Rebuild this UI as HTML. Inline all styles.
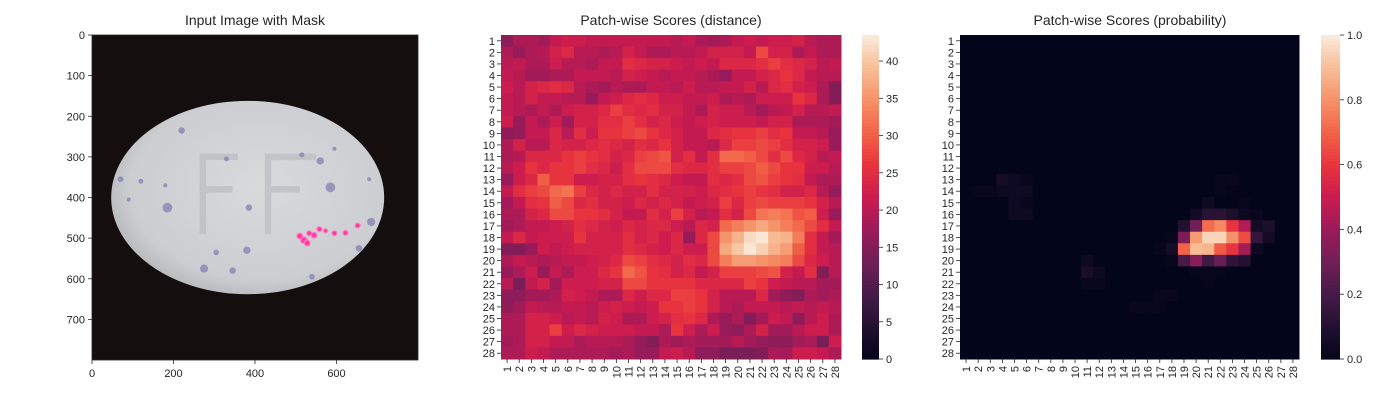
<!DOCTYPE html>
<html><head><meta charset="utf-8"><style>
html,body{margin:0;padding:0;background:#fff;}
svg text{font-family:"Liberation Sans",Arial,sans-serif;fill:#262626;}
</style></head><body>
<svg id="fig" width="1400" height="400" viewBox="0 0 1400 400" xmlns="http://www.w3.org/2000/svg">
<rect width="1400" height="400" fill="#fff"/>
<!-- Panel 1 -->
<g>
<text x="255" y="25" font-size="14" text-anchor="middle">Input Image with Mask</text>
<svg x="92" y="35" width="326" height="325" viewBox="0 0 800 800" preserveAspectRatio="none">
<defs><radialGradient id="pg" cx="0.55" cy="0.45" r="0.6"><stop offset="0" stop-color="#d8dadd"/><stop offset="0.8" stop-color="#cbcdd1"/><stop offset="1" stop-color="#b3b5b8"/></radialGradient></defs>
<rect width="800" height="800" fill="#150e0f"/>
<ellipse cx="382" cy="400" rx="335" ry="238" fill="url(#pg)"/>
<g fill="none" stroke="#c0c2c6" stroke-width="16" opacity="0.9">
<path d="M272 490 V300 H358 M272 380 H345"/>
<path d="M432 490 V300 H550 M432 380 H510"/>
</g>
<g fill="#7a73b0" opacity="0.65">
<circle cx="220" cy="235" r="8"/><circle cx="185" cy="425" r="12"/><circle cx="120" cy="360" r="6"/><circle cx="70" cy="355" r="7"/><circle cx="380" cy="530" r="9"/><circle cx="275" cy="575" r="10"/><circle cx="345" cy="580" r="8"/><circle cx="305" cy="535" r="7"/><circle cx="585" cy="375" r="12"/><circle cx="560" cy="310" r="9"/><circle cx="685" cy="460" r="10"/><circle cx="655" cy="525" r="8"/><circle cx="540" cy="595" r="7"/><circle cx="385" cy="425" r="8"/><circle cx="180" cy="370" r="5"/><circle cx="515" cy="295" r="6"/><circle cx="595" cy="280" r="5"/><circle cx="680" cy="355" r="5"/><circle cx="330" cy="305" r="6"/><circle cx="90" cy="405" r="5"/>
</g>
<g fill="#ff3aa0" stroke="#ff7cc4" stroke-width="3">
<circle cx="510" cy="495" r="7"/><circle cx="520" cy="505" r="8"/><circle cx="528" cy="512" r="7"/><circle cx="533" cy="488" r="6"/><circle cx="545" cy="493" r="7"/><circle cx="558" cy="478" r="6"/><circle cx="573" cy="482" r="5"/><circle cx="595" cy="488" r="6"/><circle cx="622" cy="487" r="6"/><circle cx="652" cy="469" r="6"/>
</g>
</svg>
<rect x="92" y="35" width="326" height="325" fill="none" stroke="#262626" stroke-width="0.8"/>
<g id="ax1"></g>
</g>
<g id="h2">
<text x="671" y="25" font-size="14" text-anchor="middle">Patch-wise Scores (distance)</text>
</g>
<g id="h3">
<text x="1130" y="25" font-size="14" text-anchor="middle">Patch-wise Scores (probability)</text>
</g>
</svg>
<script>
const imgTicks = [0,100,200,300,400,500,600,700];
const imgXTicks = [0,200,400,600];
const distTicks = [0,5,10,15,20,25,30,35,40];
const probTicks = [0,0.2,0.4,0.6,0.8,1.0];
const distMax = 43.5;
const probMax = 1.0;
const distRows = [
[16,19,19,18,21,22,22,21,21,21,21,21,21,21,20,21,19,18,19,21,22,21,22,22,23,20,19,19],
[19,17,19,20,23,24,20,20,19,20,23,21,19,19,20,20,21,23,23,23,21,28,23,23,19,21,19,19],
[20,21,19,19,22,20,20,19,21,21,25,24,23,23,22,21,22,21,24,24,24,25,27,25,24,23,20,21],
[21,20,18,18,19,19,21,21,21,20,23,22,21,20,21,21,20,19,17,21,21,23,24,26,24,21,20,20],
[22,20,23,24,25,24,20,19,18,20,19,19,21,21,20,22,20,20,21,21,23,20,24,25,23,22,19,15],
[21,20,23,21,21,20,20,17,21,22,24,25,24,22,22,21,21,22,19,20,19,22,22,22,26,24,19,15],
[21,20,19,21,19,22,23,23,24,27,25,24,25,23,23,21,19,23,22,22,20,18,20,21,23,20,20,21],
[22,17,21,19,22,18,23,23,25,25,27,25,23,24,22,21,22,23,22,22,22,21,23,23,19,19,19,18],
[16,17,21,21,24,20,25,22,26,26,27,28,26,24,23,21,21,24,25,26,26,27,25,26,21,21,20,17],
[19,23,20,20,24,23,23,24,25,24,23,25,24,26,23,21,21,20,24,27,27,28,27,25,23,23,22,17],
[19,20,24,24,24,26,27,26,25,23,24,27,28,29,23,25,21,25,31,31,30,28,25,28,24,23,20,21],
[20,22,26,24,26,26,27,25,24,22,25,28,28,28,25,24,24,25,27,27,28,30,28,26,26,22,22,20],
[17,22,24,30,26,26,22,22,23,23,25,26,25,24,22,21,21,25,24,25,28,29,27,26,25,21,19,19],
[21,25,27,28,31,32,27,24,23,24,23,23,25,23,23,23,22,24,25,26,27,26,25,23,23,24,20,17],
[18,21,25,26,30,28,24,25,23,23,22,24,23,24,23,21,22,23,27,24,27,28,27,27,27,26,23,20],
[19,19,23,24,28,28,26,26,25,23,21,21,25,23,27,23,20,21,25,23,28,32,33,32,29,30,22,17],
[18,19,21,21,22,23,25,24,23,22,24,23,24,24,22,20,24,23,31,33,35,37,35,33,31,28,25,21],
[21,24,21,22,22,22,26,23,23,23,25,23,24,22,24,17,24,28,35,38,42,43,39,38,33,25,21,18],
[15,15,17,22,21,22,23,23,23,23,25,24,23,22,24,22,22,28,37,40,43,41,38,36,30,25,21,20],
[19,21,20,19,20,21,21,22,23,24,28,27,25,24,23,25,24,28,33,36,36,35,34,33,28,24,22,20],
[17,19,22,17,21,19,22,22,24,26,31,29,26,25,23,24,21,23,27,27,27,28,29,23,21,25,15,20],
[20,14,21,23,18,22,22,22,23,23,28,28,26,26,26,26,24,24,24,24,27,26,22,21,20,20,18,18],
[16,16,18,18,19,23,22,21,19,19,24,22,24,24,27,27,26,23,20,20,20,24,18,16,15,19,18,19],
[16,18,21,20,20,21,21,20,22,23,22,21,22,26,26,27,26,23,20,19,21,21,21,20,21,20,21,20],
[19,19,23,23,22,20,21,20,23,22,19,19,22,23,25,26,24,19,17,19,15,18,22,21,16,20,22,19],
[19,19,23,23,27,22,24,23,22,22,22,21,21,19,26,22,19,22,17,16,19,23,18,18,20,22,22,19],
[18,19,23,23,21,21,19,20,20,20,19,17,15,19,18,19,18,18,18,20,18,17,16,16,18,19,14,22],
[19,19,22,21,19,19,19,19,19,18,19,17,17,21,22,20,16,16,14,14,14,15,19,18,22,22,21,19]
];
const z=[0,0,0,0,0,0,0,0,0,0,0,0,0,0,0,0,0,0,0,0,0,0,0,0,0,0,0,0];
const probRows = [
z,z,z,z,z,z,z,z,z,z,z,z,
[0,0,0,0.06,0.04,0.02,0,0,0,0,0,0,0,0,0,0,0,0,0,0,0,0.01,0.02,0,0,0,0,0],
[0,0.02,0.02,0.03,0.04,0.04,0,0,0,0,0,0,0,0,0,0,0,0,0,0,0,0.01,0,0,0,0,0,0],
[0,0,0,0,0.04,0.02,0,0,0,0,0,0,0,0,0,0,0,0,0,0,0.04,0,0,0.01,0,0,0,0],
[0,0,0,0,0.04,0.04,0,0,0,0,0,0,0,0,0,0,0,0,0,0.05,0.12,0.12,0.08,0.03,0.02,0,0,0],
[0,0,0,0,0,0,0,0,0,0,0,0,0,0,0,0,0,0,0.1,0.3,0.72,0.78,0.6,0.45,0.05,0.08,0,0],
[0,0,0,0,0,0,0,0,0,0,0,0,0,0,0,0,0,0.02,0.33,0.82,0.95,0.95,0.8,0.65,0.15,0.05,0,0],
[0,0,0,0,0,0,0,0,0,0,0,0,0,0,0,0,0.02,0.06,0.7,0.9,0.88,0.68,0.6,0.42,0.03,0,0,0],
[0,0,0,0,0,0,0,0,0,0,0.03,0,0,0,0,0,0,0.02,0.2,0.35,0.18,0.28,0.13,0.1,0,0,0,0],
[0,0,0,0,0,0,0,0,0,0,0.07,0.03,0,0,0,0,0,0,0,0.01,0.01,0.01,0,0,0,0,0,0],
[0,0,0,0,0,0,0,0,0,0,0.02,0.02,0,0,0,0,0,0,0,0,0.01,0,0,0,0,0,0,0],
[0,0,0,0,0,0,0,0,0,0,0,0,0,0,0,0,0.02,0.02,0,0,0,0,0,0,0,0,0,0],
[0,0,0,0,0,0,0,0,0,0,0,0,0,0,0.02,0.02,0.02,0,0,0,0,0,0,0,0,0,0,0],
z,z,z,z
];
const rocket=[[0,3,5,26],[0.1,34,17,48],[0.2,70,26,73],[0.3,112,31,87],[0.4,155,27,90],[0.5,203,27,79],[0.6,232,52,62],[0.7,242,99,71],[0.8,245,145,104],[0.9,247,190,150],[1,250,235,221]];
function cmap(t){t=Math.max(0,Math.min(1,t));for(let i=1;i<rocket.length;i++){if(t<=rocket[i][0]){const a=rocket[i-1],b=rocket[i],f=(t-a[0])/(b[0]-a[0]);return `rgb(${Math.round(a[1]+f*(b[1]-a[1]))},${Math.round(a[2]+f*(b[2]-a[2]))},${Math.round(a[3]+f*(b[3]-a[3]))})`;}}return 'rgb(250,235,221)';}
const NS='http://www.w3.org/2000/svg';
function mk(parent,tag,attrs,txt){const e=document.createElementNS(NS,tag);for(const k in attrs)e.setAttribute(k,attrs[k]);if(txt!==undefined)e.textContent=txt;parent.appendChild(e);return e;}
const ax1=document.getElementById('ax1');
const ix=v=>92+v*326/800, iy=v=>35+v*325/800;
imgTicks.forEach(v=>{const y=iy(v);mk(ax1,'line',{x1:88,x2:92,y1:y,y2:y,stroke:'#262626','stroke-width':0.8});
const t=mk(ax1,'text',{x:85,y:y+4,'font-size':11,'text-anchor':'end'},String(v));

});
imgXTicks.forEach(v=>{const x=ix(v);mk(ax1,'line',{x1:x,x2:x,y1:360,y2:364,stroke:'#262626','stroke-width':0.8});
const t=mk(ax1,'text',{x:x,y:377,'font-size':11,'text-anchor':'middle'},String(v));

});
function heat(gid,x0,x1,data,vmax,cbx,cbw,ticks,fmt,name){
 const g=document.getElementById(gid);const y0=35,y1=359;const n=28;const cw=(x1-x0)/n,ch=(y1-y0)/n;
 const xs=j=>x0+j*cw, ys=i=>y0+i*ch;
 data.forEach((row,i)=>row.forEach((v,j)=>{const r=mk(g,'rect',{x:xs(j),y:ys(i),width:cw+0.5,height:ch+0.5,fill:cmap(v/vmax)});
 
 }));
 for(let i=0;i<n;i++){const y=ys(i)+ch/2;mk(g,'line',{x1:x0-4,x2:x0,y1:y,y2:y,stroke:'#262626','stroke-width':0.8});
 const t=mk(g,'text',{x:x0-6,y:y+4,'font-size':11,'text-anchor':'end'},String(i+1));
 
 }
 for(let j=0;j<n;j++){const x=xs(j)+cw/2;mk(g,'line',{x1:x,x2:x,y1:y1,y2:y1+4,stroke:'#262626','stroke-width':0.8});
 const t=mk(g,'text',{x:0,y:0,'font-size':11,'text-anchor':'end',transform:`translate(${x+4},${y1+7}) rotate(-90)`},String(j+1));
 
 }
 const steps=100;for(let k=0;k<steps;k++){const r=mk(g,'rect',{x:cbx,y:y1-(k+1)*(y1-y0)/steps,width:cbw,height:(y1-y0)/steps+0.6,fill:cmap((k+0.5)/steps)});
 
 }
 ticks.forEach(v=>{const y=y1-v/vmax*(y1-y0);mk(g,'line',{x1:cbx+cbw,x2:cbx+cbw+4,y1:y,y2:y,stroke:'#262626','stroke-width':0.8});
 const t=mk(g,'text',{x:cbx+cbw+7,y:y+4,'font-size':11},fmt(v));
 
 });
}
heat('h2',501,841,distRows,distMax,862,17,distTicks,v=>String(v),'distance');
heat('h3',960,1299,probRows,probMax,1321,19,probTicks,v=>v.toFixed(1),'probability');
</script>
</body></html>
